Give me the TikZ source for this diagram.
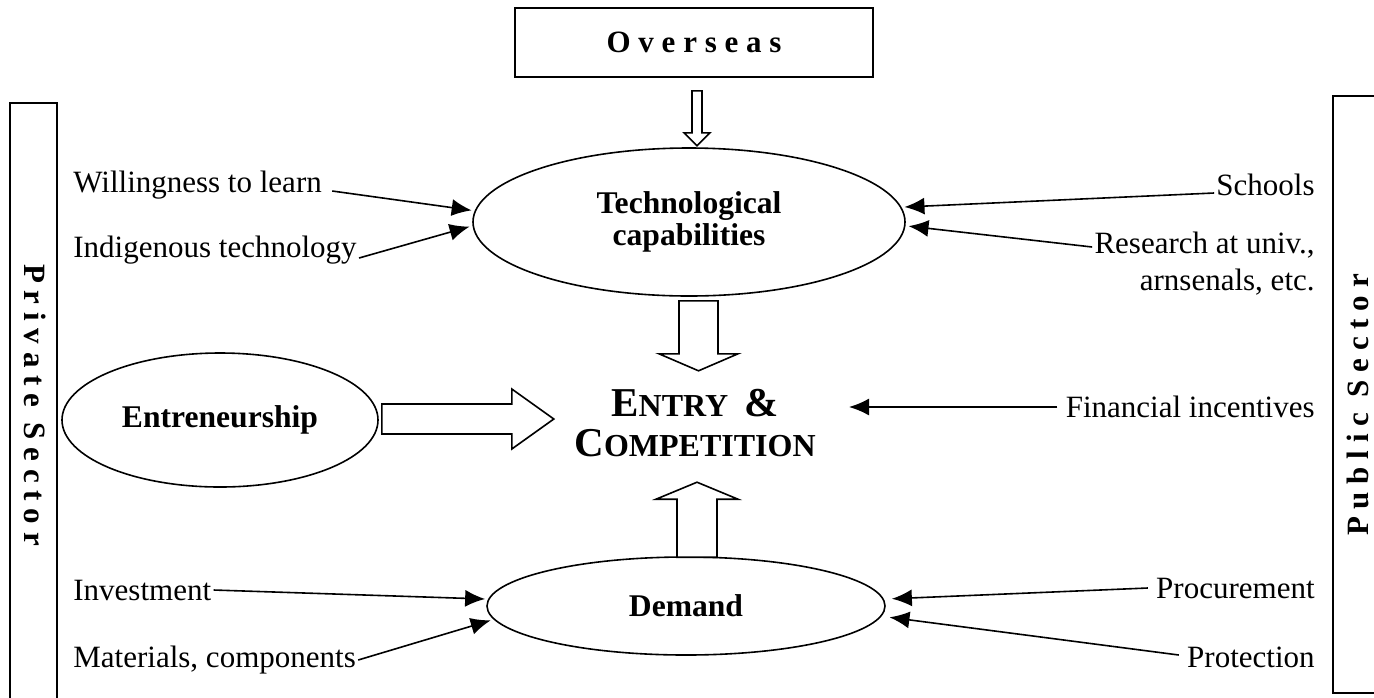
\documentclass[tikz,border=0pt]{standalone}
\usepackage{fontspec}
\setmainfont{Liberation Serif}
\usetikzlibrary{shapes.geometric,arrows.meta,calc}
\newcommand\smc[1]{{\fontsize{16}{16}\selectfont #1}}
\newcommand\fatarrow[6]{%
  \begin{scope}[shift={#1}, rotate=#2]
    \draw[fat] (0,-#4) -- ({#3-#6},-#4) -- ({#3-#6},-#5) -- (#3,0) -- ({#3-#6},#5) -- ({#3-#6},#4) -- (0,#4) -- cycle;
  \end{scope}}
\begin{document}
\begin{tikzpicture}[x=0.5pt,y=-0.5pt,
  every node/.style={font=\fontsize{15.5}{18.5}\selectfont, inner sep=0pt},
  oval/.style={draw, ellipse, line width=0.8pt, inner sep=0pt, font=\fontsize{15.8}{16}\selectfont\bfseries, align=center},
  conn/.style={line width=0.8pt, -{Latex[length=10pt,width=8.5pt]}, shorten >=1.5pt},
  fat/.style={line width=0.8pt, fill=white},
  bar/.style={line width=0.8pt},
  sector/.style={font=\fontsize{15.5}{18}\selectfont\bfseries},
]
\useasboundingbox (0,0) rectangle (1374,697);
\clip (0,0) rectangle (1374,697);

% side bars
\draw[bar] (10,720) -- (10,103) -- (57,103) -- (57,720);
\draw[bar] (1400,96) -- (1333,96) -- (1333,693) -- (1400,693);
\node[sector, rotate=-90] (priv) at (35,405) {P r i v a t e\ \ S e c t o r};
\node[sector, rotate=90] (pub) at (1358,405) {P u b l i c\ \ S e c t o r};

% main nodes
\node[draw, line width=0.8pt, minimum width=179pt, minimum height=34.5pt, font=\fontsize{15.5}{18}\selectfont\bfseries] (over) at (694,42.5) {O v e r s e a s};
\node[oval, minimum width=216pt, minimum height=74pt] (tech) at (689,222) {Technological\\capabilities};
\node[oval, minimum width=158pt, minimum height=67pt] (entre) at (220,420) {Entreneurship};
\node[oval, minimum width=199pt, minimum height=49pt] (demand) at (686,606) {Demand};
\node[align=center, font=\fontsize{20.5}{20}\selectfont\bfseries] (entry) at (695,423) {E\smc{NTRY}\ \hspace{3pt}\&\\C\smc{OMPETITION}};

% labels
\node[anchor=west] (will) at (73,185) {Willingness to learn};
\node[anchor=west] (indig) at (73,250) {Indigenous technology};
\node[anchor=west] (invest) at (73,590) {Investment};
\node[anchor=west] (mat) at (73,660) {Materials, components};
\node[anchor=east] (schools) at (1315,185) {Schools};
\node[anchor=north east, align=right] (research) at (1315,232) {Research at univ.,\\arnsenals, etc.};
\node[anchor=east] (fin) at (1315,407) {Financial incentives};
\node[anchor=east] (proc) at (1315,588) {Procurement};
\node[anchor=east] (prot) at (1315,657) {Protection};

% thin connectors
\draw[conn] ([xshift=5pt,yshift=-3pt]will.east) -- (tech.177);
\draw[conn] ([xshift=1pt,yshift=-4pt]indig.east) -- (tech.181);
\draw[conn] ([xshift=-1pt,yshift=-4pt]schools.west) -- (tech.4);
\draw[conn] ($(research.north west)+(-2,15)$) -- (tech.359);
\draw[conn] ([xshift=1pt]invest.east) -- (demand.178);
\draw[conn] ([xshift=1pt]mat.east) -- (demand.184);
\draw[conn, shorten >=4pt] ([xshift=-4pt]proc.west) -- (demand.2.5);
\draw[conn, shorten >=4pt] ([xshift=-4pt,yshift=1pt]prot.west) -- (demand.357);
\draw[conn, shorten >=0pt] ([xshift=-4pt]fin.west) -- ($(entry.east |- fin.west)+(33,0)$);

% hollow block arrows
\fatarrow{($(over.south)+(3,13)$)}{-90}{55}{5}{13}{13}
\fatarrow{($(tech.south)+(9.5,4)$)}{-90}{70}{19.5}{39.5}{17}
\fatarrow{($(demand.north)+(11,1)$)}{90}{75}{20}{41}{17}
\fatarrow{($(entre.east)+(3,-1)$)}{0}{172}{15}{30}{42}
\end{tikzpicture}
\end{document}
